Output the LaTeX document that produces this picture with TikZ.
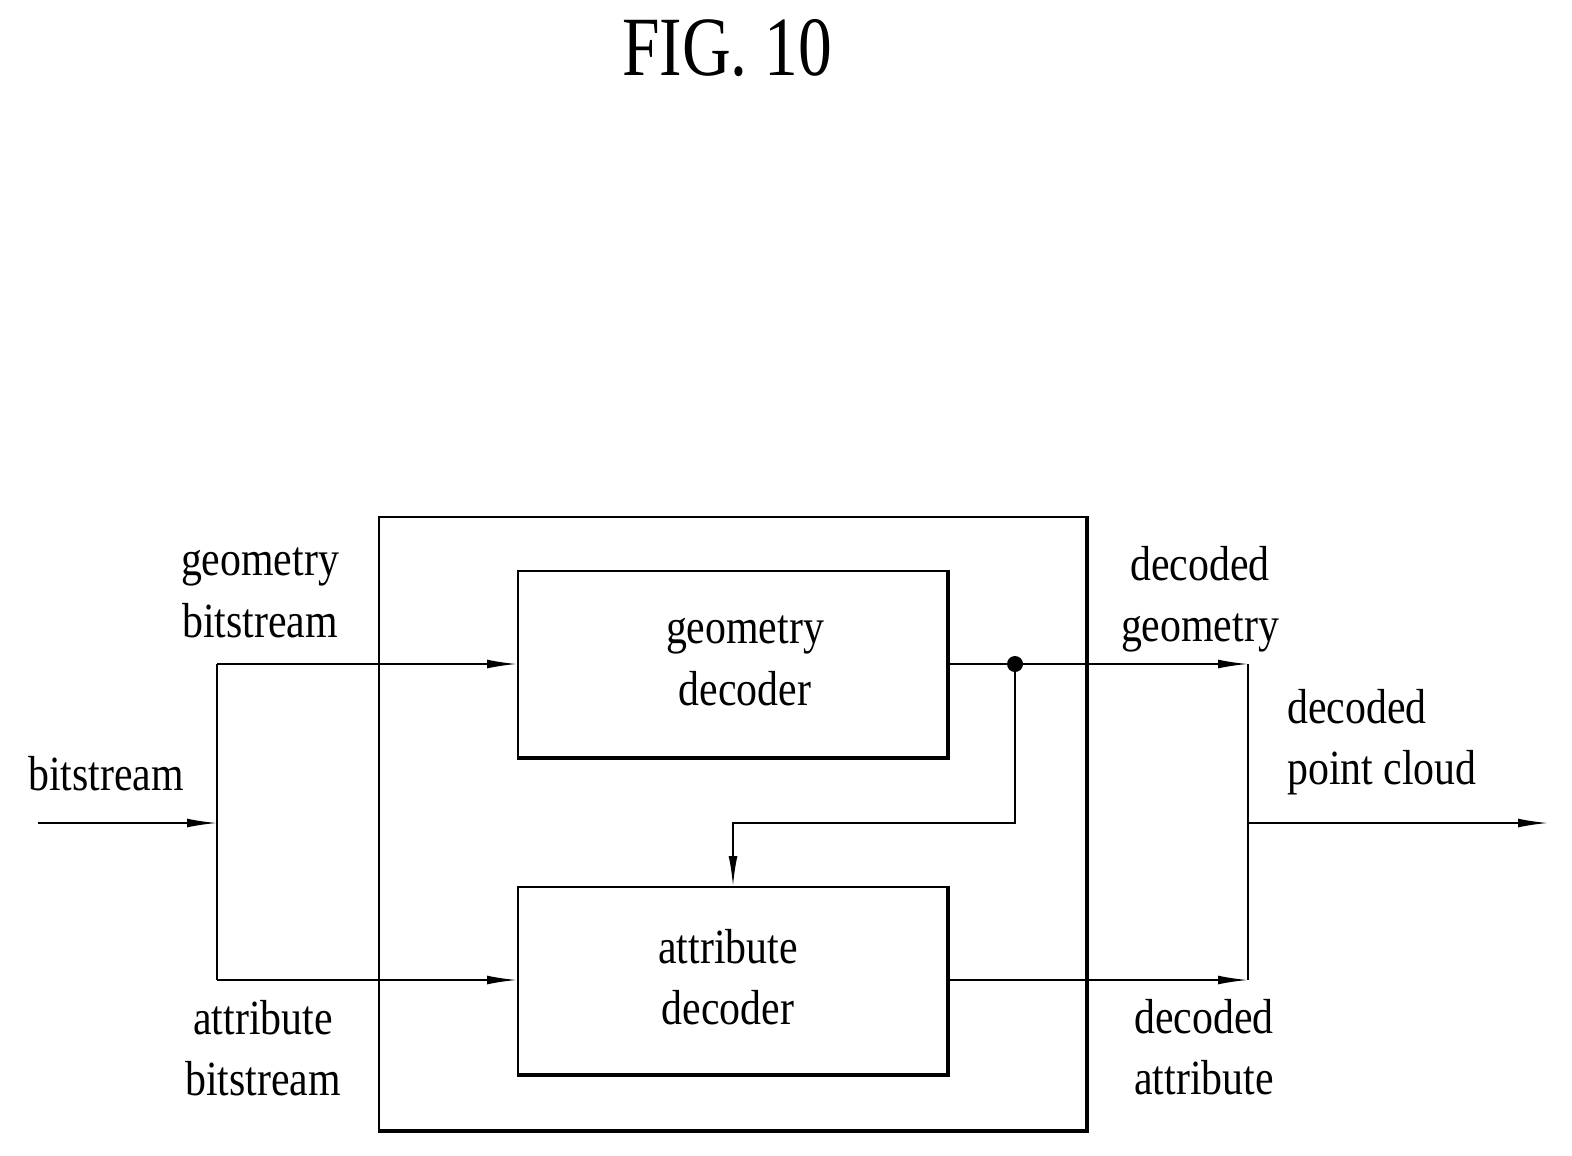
\documentclass[tikz,border=0pt]{standalone}
\usepackage{fontspec}
\setmainfont{Liberation Serif}
\usetikzlibrary{arrows.meta}
\begin{document}
\begin{tikzpicture}[x=0.02cm,y=-0.02cm,
  ln/.style={line width=1pt},
  arr/.style={ln,-{Latex[length=17pt,width=5pt]}},
  lbl/.style={font=\fontsize{28}{35}\selectfont,align=center,xscale=0.85}]
\useasboundingbox (0,0) rectangle (1572,1156);
\node[font=\fontsize{48}{50}\selectfont,xscale=0.8] (title) at (727,48) {FIG.\ 10};
% boxes
\node[draw,ln,minimum width=709*0.02cm,minimum height=615*0.02cm,anchor=north west] (outer) at (378,516) {};
\draw[line width=2.5pt] (378,1131) -- (1087,1131) -- (1087,516);
\node[draw,ln,minimum width=431*0.02cm,minimum height=188*0.02cm,anchor=north west] (geo) at (517,570) {};
\draw[line width=2.5pt] (517,758) -- (948,758) -- (948,570);
\node[draw,ln,minimum width=431*0.02cm,minimum height=189*0.02cm,anchor=north west] (att) at (517,886) {};
\draw[line width=2.5pt] (517,1075) -- (948,1075) -- (948,886);
\node[lbl] at (745,661) {geometry\\decoder};
\node[lbl] at (728,977) {attribute\\decoder};
% coordinates
\coordinate (in) at (38,823);
\coordinate (sp) at (217,823);
\coordinate (sg) at (217,664);
\coordinate (sa) at (217,980);
\coordinate (dot) at (1015,664);
\coordinate (mg) at (1248,664);
\coordinate (ma) at (1248,980);
\coordinate (mo) at (1248,823);
\coordinate (out) at (1548,823);
\draw[arr] (in) -- (sp);
\draw[ln] (sg) -- (sa);
\draw[arr] (sg) -- (geo.west|-sg);
\draw[arr] (sa) -- (att.west|-sa);
\draw[arr] (geo.east|-mg) -- (mg);
\draw[arr] (att.east|-ma) -- (ma);
\draw[ln] (mg) -- (ma);
\draw[arr] (mo) -- (out);
\fill (dot) circle (8);
\draw[arr] (dot) -- (1015,823) -- (733,823) -- (733,886);
% labels
\node[lbl] at (260,593) {geometry\\bitstream};
\node[lbl] at (106,774) {bitstream};
\node[lbl] at (263,1048) {attribute\\bitstream};
\node[lbl] at (1200,599) {decoded\\geometry};
\node[lbl,align=left,anchor=west] at (1282,742) {decoded\\point cloud};
\node[lbl] at (1204,1047) {decoded\\attribute};
\end{tikzpicture}
\end{document}
